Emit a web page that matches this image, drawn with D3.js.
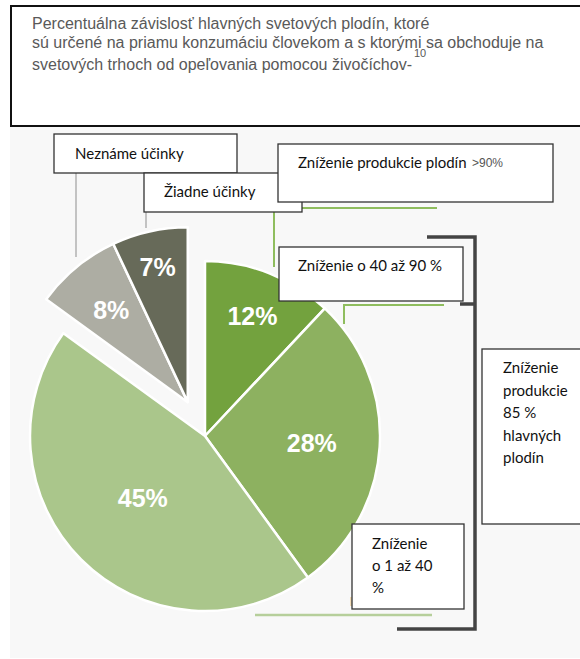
<!DOCTYPE html>
<html>
<head>
<meta charset="utf-8">
<script src="https://cdn.jsdelivr.net/npm/d3@7"></script>
<style>
  html, body { margin: 0; padding: 0; background: #fff; }
  svg { display: block; }
  .box-text { font-family: Lato, "Noto Sans", sans-serif; font-size: 15px; fill: #111; }
  .title { font-family: "Liberation Sans", Arial, sans-serif; font-size: 16px; fill: #595959; }
  .slice-label { font-family: "Liberation Sans", Arial, sans-serif; font-weight: bold; font-size: 25px; fill: #fff; }
</style>
</head>
<body>
<div id="chart"></div>
<script>
// slices, clockwise from 12 o'clock
const categories = ["Zníženie > 90 %", "Zníženie o 40 až 90 %", "Zníženie o 1 až 40 %", "Neznáme účinky", "Žiadne účinky"];
const values = [12, 28, 45, 8, 7];
const sliceColors = ["#73a23e", "#8db160", "#aac68b", "#adada3", "#676a59"];
const explodedCats = ["Neznáme účinky", "Žiadne účinky"];

const titleLines = [
  "Percentuálna závislosť hlavných svetových plodín, ktoré",
  "sú určené na priamu konzumáciu človekom a s ktorými sa obchoduje na",
  "svetových trhoch od opeľovania pomocou živočíchov-"
];
const titleSup = "10";

// label boxes text
const boxNeznáme = ["Neznáme účinky"];
const boxZiadne = ["Žiadne účinky"];
const boxOver90 = ["Zníženie produkcie plodín"];
const boxOver90Small = ">90%";
const box40to90 = ["Zníženie o 40 až 90 %"];
const box85 = ["Zníženie", "produkcie", "85 %", "hlavných", "plodín"];
const box1to40 = ["Zníženie", "o 1 až 40", "%"];

const W = 580, H = 659;
const svg = d3.select("#chart").append("svg")
  .attr("width", W).attr("height", H);

// grey chart background
svg.append("rect").attr("x", 10).attr("y", 127).attr("width", W - 10).attr("height", 531)
  .attr("fill", "#f8f8f8");

// title box
svg.append("rect").attr("x", 11).attr("y", 6).attr("width", 600).attr("height", 120)
  .attr("fill", "#fff").attr("stroke", "#111").attr("stroke-width", 2);

const title = svg.append("text").attr("class", "title");
const tBase = [29, 48, 70];
titleLines.forEach((l, i) => {
  title.append("tspan").attr("x", 32).attr("y", tBase[i]).text(l);
});
title.append("tspan").attr("dx", 2).attr("dy", -13).attr("font-size", 11).text(titleSup);

// pie
const cx = 205, cy = 436, R = 175;
const pie = d3.pie().sort(null).value(d => d)(values);
const arc = d3.arc().innerRadius(0).outerRadius(R);

const ex = pie.filter((d, i) => explodedCats.includes(categories[i]));
const exMid = (ex[0].startAngle + ex[ex.length - 1].endAngle) / 2;
const exDist = 38;
const exDx = Math.sin(exMid) * exDist, exDy = -Math.cos(exMid) * exDist;

const labelR = [129, 107, 88, 120, 138];

const g = svg.append("g").attr("transform", `translate(${cx},${cy})`);
const slices = g.selectAll("g.slice").data(pie).join("g")
  .attr("class", "slice")
  .attr("transform", (d, i) => explodedCats.includes(categories[i]) ? `translate(${exDx},${exDy})` : null);

slices.append("path")
  .attr("d", arc)
  .attr("fill", (d, i) => sliceColors[i])
  .attr("stroke", "#fff").attr("stroke-width", 2.5).attr("stroke-linejoin", "round");

slices.append("text")
  .attr("class", "slice-label")
  .attr("text-anchor", "middle")
  .attr("x", (d, i) => Math.sin((d.startAngle + d.endAngle) / 2) * labelR[i])
  .attr("y", (d, i) => -Math.cos((d.startAngle + d.endAngle) / 2) * labelR[i] + 9)
  .text(d => d.value + "%");

// leader lines
const line = (pts, color, w) => svg.append("path")
  .attr("d", d3.line()(pts)).attr("fill", "none")
  .attr("stroke", color).attr("stroke-width", w);

line([[76, 173], [76, 257]], "#c3c3c3", 2);
line([[146, 212], [146, 228]], "#c3c3c3", 2);
line([[274, 212], [274, 267]], "#8fbd5e", 2);
line([[302, 208], [437, 208]], "#8fbd5e", 2);
line([[344, 324], [344, 305], [444, 305]], "#8fbd5e", 2);
line([[255, 615], [432, 615]], "#b6cf9b", 2.5);
line([[351, 597], [351, 606]], "#f1dcb8", 2);

// bracket
line([[427, 237], [475, 237], [475, 629], [397, 629]], "#444", 3.5);
line([[460, 304], [475, 304]], "#444", 3.5);

// boxes
function box(x, y, w, h, lines, tx, ty0, lh) {
  svg.append("rect").attr("x", x).attr("y", y).attr("width", w).attr("height", h)
    .attr("fill", "#fff").attr("stroke", "#333").attr("stroke-width", 1.3);
  const t = svg.append("text").attr("class", "box-text");
  lines.forEach((l, i) => t.append("tspan").attr("x", tx).attr("y", ty0 + i * lh).text(l));
  return t;
}

box(54, 134, 183, 39, boxNeznáme, 75, 159, 0);
box(144, 173, 158, 39, boxZiadne, 164, 197, 0);
box(278, 144, 275, 58, boxOver90, 298, 168, 0);
svg.append("text").attr("x", 472).attr("y", 167)
  .attr("font-family", "'Liberation Sans', Arial, sans-serif").attr("font-size", 12)
  .attr("fill", "#555").text(boxOver90Small);
box(279, 247, 184, 54, box40to90, 298, 271, 0);
box(482, 349, 120, 175, box85, 503, 373, 22.5);
box(352, 524, 112, 85, box1to40, 372, 549, 22);
</script>
</body>
</html>
